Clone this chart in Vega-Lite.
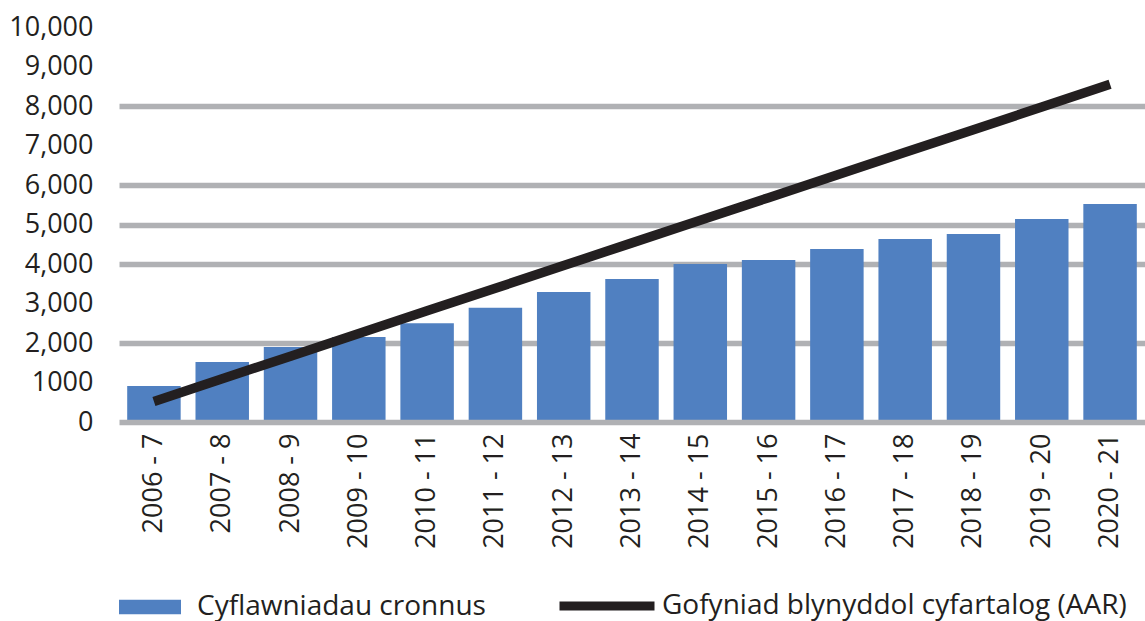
{
  "$schema": "https://vega.github.io/schema/vega-lite/v6.json",
  "autosize": {"type": "none"},
  "width": 1026,
  "height": 395,
  "padding": {"left": 119, "top": 27, "right": 0, "bottom": 199},
  "background": "white",
  "data": {
    "values": [
      {"year": "2006 - 7", "value": 910, "aar": 520},
      {"year": "2007 - 8", "value": 1520, "aar": 1095},
      {"year": "2008 - 9", "value": 1900, "aar": 1665},
      {"year": "2009 - 10", "value": 2150, "aar": 2240},
      {"year": "2010 - 11", "value": 2500, "aar": 2815},
      {"year": "2011 - 12", "value": 2890, "aar": 3385},
      {"year": "2012 - 13", "value": 3290, "aar": 3960},
      {"year": "2013 - 14", "value": 3620, "aar": 4535},
      {"year": "2014 - 15", "value": 4000, "aar": 5110},
      {"year": "2015 - 16", "value": 4100, "aar": 5680},
      {"year": "2016 - 17", "value": 4380, "aar": 6255},
      {"year": "2017 - 18", "value": 4630, "aar": 6830},
      {"year": "2018 - 19", "value": 4760, "aar": 7400},
      {"year": "2019 - 20", "value": 5140, "aar": 7975},
      {"year": "2020 - 21", "value": 5520, "aar": 8550}
    ]
  },
  "encoding": {
    "x": {
      "field": "year",
      "type": "nominal",
      "sort": null,
      "title": null,
      "scale": {"paddingInner": 0.217, "paddingOuter": 0.12},
      "axis": {
        "labelAngle": -90,
        "labelFontSize": 27,
        "labelFont": "Open Sans",
        "labelColor": "#231F20",
        "labelPadding": 11,
        "ticks": false,
        "domain": true,
        "domainColor": "#B0B1B4",
        "domainWidth": 5.5,
        "zindex": 1,
        "grid": false
      }
    }
  },
  "layer": [
    {
      "mark": {"type": "bar", "color": "#5080C1"},
      "encoding": {
        "y": {
          "field": "value",
          "type": "quantitative",
          "title": null,
          "scale": {"domain": [0, 10000], "nice": false},
          "axis": {
            "values": [0, 1000, 2000, 3000, 4000, 5000, 6000, 7000, 8000, 9000, 10000],
            "labelExpr": "datum.value == 1000 ? '1000' : format(datum.value, ',')",
            "labelFontSize": 27,
            "labelFont": "Open Sans",
            "labelColor": "#231F20",
            "labelPadding": 26,
            "ticks": false,
            "domain": false,
            "grid": false
          }
        },
        "color": {
          "datum": "Cyflawniadau cronnus",
          "type": "nominal",
          "scale": {"range": ["#5080C1"]},
          "legend": {
            "orient": "none",
            "legendX": 0,
            "legendY": 549,
            "title": null,
            "symbolType": "M-1,-0.23H1V0.23H-1Z",
            "symbolSize": 3844,
            "symbolStrokeWidth": 0,
            "labelFontSize": 28,
            "labelFont": "Open Sans",
            "labelColor": "#231F20",
            "labelOffset": 16,
            "labelLimit": 0
          }
        }
      }
    },
    {
      "mark": {"type": "line", "strokeWidth": 9.5, "strokeCap": "butt"},
      "encoding": {
        "y": {
          "field": "aar",
          "type": "quantitative",
          "axis": {
            "orient": "left",
            "values": [2000, 4000, 5000, 6000, 8000],
            "labels": false,
            "ticks": false,
            "domain": false,
            "grid": true,
            "gridColor": "#B0B1B4",
            "gridWidth": 5.5,
            "gridOpacity": 1,
            "title": null
          }
        },
        "stroke": {
          "datum": "Gofyniad blynyddol cyfartalog (AAR)",
          "type": "nominal",
          "scale": {"range": ["#231F20"]},
          "legend": {
            "orient": "none",
            "legendX": 436,
            "legendY": 527,
            "title": null,
            "symbolType": "M-1,0H1",
            "symbolSize": 9025,
            "symbolStrokeWidth": 9,
            "symbolFillColor": "transparent",
            "labelFontSize": 28,
            "labelFont": "Open Sans",
            "labelColor": "#231F20",
            "labelOffset": 3,
            "labelLimit": 0
          }
        }
      }
    }
  ],
  "resolve": {"axis": {"y": "independent"}},
  "config": {"view": {"stroke": null}}
}
